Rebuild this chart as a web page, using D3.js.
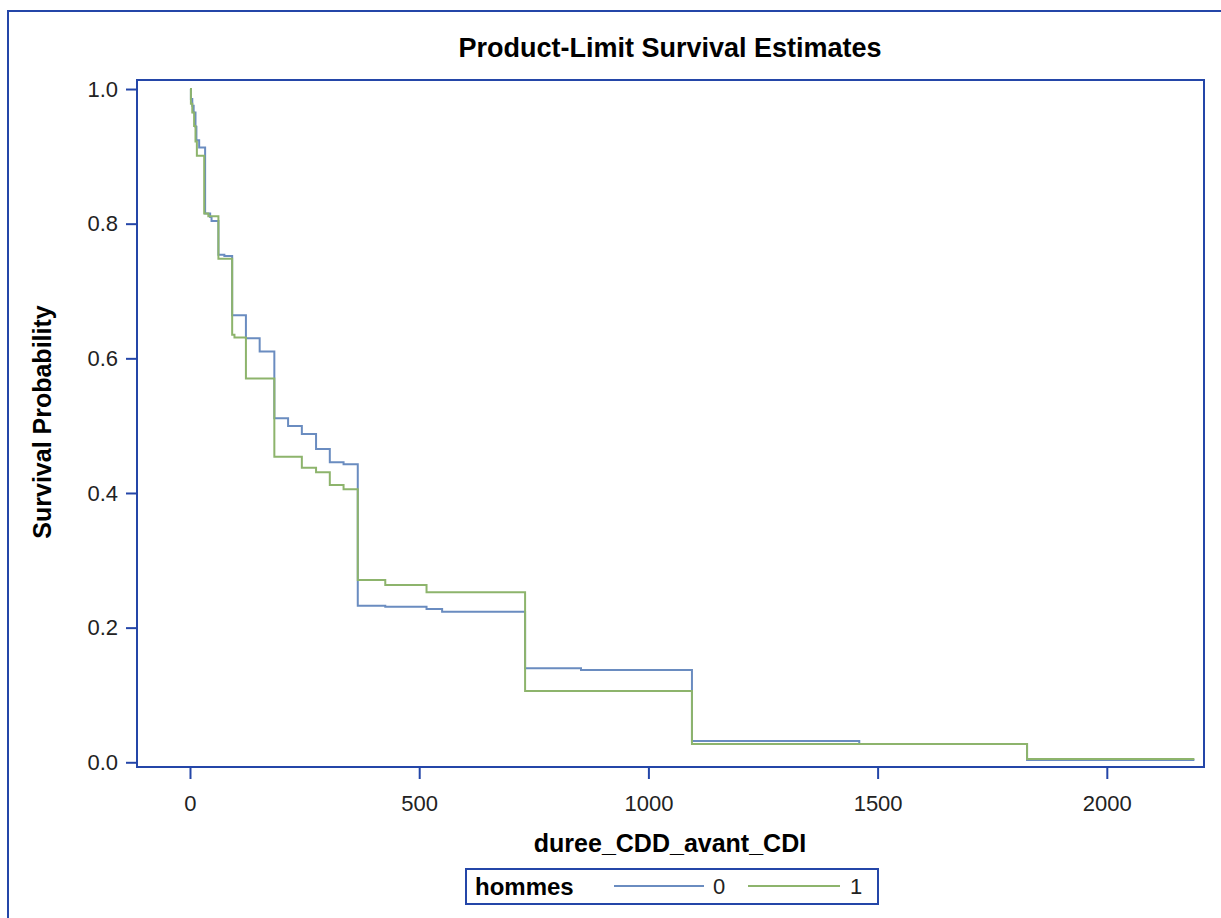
<!DOCTYPE html>
<html>
<head>
<meta charset="utf-8">
<script src="https://cdn.jsdelivr.net/npm/d3@7"></script>
<style>
  body { margin: 0; background: #fff; }
  text { font-family: "Liberation Sans", Arial, sans-serif; }
</style>
</head>
<body>
<div id="container"></div>
<script>
var width = 1221,
    height = 918;

// hommes = 0 (blue)
var times0 = [0, 2, 5, 8, 12, 14, 20, 33, 44, 47, 62, 75, 92, 122, 152, 184, 214, 244, 275, 305, 335, 366, 426, 516, 550, 731, 853, 1095, 1460, 1826];
var surv0 = [1.0, 0.985, 0.975, 0.965, 0.944, 0.924, 0.913, 0.815, 0.810, 0.804, 0.754, 0.752, 0.664, 0.630, 0.610, 0.511, 0.4995, 0.4876, 0.4653, 0.4456, 0.4426, 0.2326, 0.2311, 0.2277, 0.2237, 0.1396, 0.1371, 0.0316, 0.0272, 0.0035];
// hommes = 1 (green)
var times1 = [0, 2, 5, 9, 12, 15, 31, 40, 62, 92, 97, 122, 184, 244, 275, 305, 335, 366, 426, 516, 731, 1095, 1826];
var surv1 = [1.0, 0.978, 0.965, 0.945, 0.922, 0.901, 0.815, 0.811, 0.748, 0.635, 0.631, 0.570, 0.4539, 0.4376, 0.4307, 0.4119, 0.4054, 0.2708, 0.2633, 0.2525, 0.1059, 0.0272, 0.005];
var endTime = 2191;

var groups = ["0", "1"];
var xTicks = [0, 500, 1000, 1500, 2000];
var yTicks = [0, 0.2, 0.4, 0.6, 0.8, 1.0];

var frameBlue = "#2446a8";
var colors = ["#6a8cc0", "#8db46c"];

var svg = d3.select("#container").append("svg")
    .attr("width", width)
    .attr("height", height);

// outer border
svg.append("rect")
    .attr("x", 8).attr("y", 11)
    .attr("width", width + 20).attr("height", height + 20)
    .attr("fill", "none")
    .attr("stroke", frameBlue)
    .attr("stroke-width", 2);

var x = d3.scaleLinear().domain([-115.6, 2212]).range([137, 1204]);
var y = d3.scaleLinear().domain([-0.007, 1.0134]).range([767, 80]);

// title
svg.append("text")
    .attr("x", 670).attr("y", 57)
    .attr("text-anchor", "middle")
    .attr("font-size", 27)
    .attr("font-weight", "bold")
    .attr("fill", "#000")
    .text("Product-Limit Survival Estimates");

// curves
function toPoints(ts, ss) {
    var pts = ts.map((t, i) => [t, ss[i]]);
    pts.push([endTime, ss[ss.length - 1]]);
    return pts;
}
var line = d3.line()
    .x(d => x(d[0]))
    .y(d => y(d[1]))
    .curve(d3.curveStepAfter);

var series = [toPoints(times0, surv0), toPoints(times1, surv1)];
svg.selectAll(".curve")
    .data(series)
    .enter().append("path")
    .attr("class", "curve")
    .attr("d", d => line(d))
    .attr("fill", "none")
    .attr("stroke", (d, i) => colors[i])
    .attr("stroke-width", 2);

// frame
svg.append("rect")
    .attr("x", x.range()[0]).attr("y", y.range()[1])
    .attr("width", x.range()[1] - x.range()[0])
    .attr("height", y.range()[0] - y.range()[1])
    .attr("fill", "none")
    .attr("stroke", frameBlue)
    .attr("stroke-width", 2);

// axes
var xAxis = svg.append("g")
    .attr("transform", "translate(0," + y.range()[0] + ")")
    .call(d3.axisBottom(x).tickValues(xTicks).tickSize(12).tickPadding(16).tickFormat(d3.format("d")));
var yAxis = svg.append("g")
    .attr("transform", "translate(" + x.range()[0] + ",0)")
    .call(d3.axisLeft(y).tickValues(yTicks).tickSize(11).tickPadding(8).tickFormat(d3.format(".1f")));

[xAxis, yAxis].forEach(g => {
    g.select(".domain").remove();
    g.selectAll(".tick line").attr("stroke", frameBlue).attr("stroke-width", 2);
    g.selectAll(".tick text")
        .attr("font-size", 22)
        .attr("font-family", "Liberation Sans, Arial, sans-serif")
        .attr("fill", "#222");
});

// axis labels
svg.append("text")
    .attr("x", 670).attr("y", 852)
    .attr("text-anchor", "middle")
    .attr("font-size", 25)
    .attr("font-weight", "bold")
    .text("duree_CDD_avant_CDI");

svg.append("text")
    .attr("transform", "translate(51,422) rotate(-90)")
    .attr("text-anchor", "middle")
    .attr("font-size", 25)
    .attr("font-weight", "bold")
    .text("Survival Probability");

// legend
var lg = svg.append("g");
lg.append("rect")
    .attr("x", 466).attr("y", 869)
    .attr("width", 412).attr("height", 35)
    .attr("fill", "#fff")
    .attr("stroke", frameBlue)
    .attr("stroke-width", 2);
lg.append("text")
    .attr("x", 475).attr("y", 895)
    .attr("font-size", 24)
    .attr("font-weight", "bold")
    .text("hommes");
var legX = [{x1: 614, x2: 704, tx: 719}, {x1: 748, x2: 840, tx: 856}];
lg.selectAll(".litem")
    .data(groups)
    .enter().append("g")
    .each(function (d, i) {
        var g = d3.select(this);
        g.append("line")
            .attr("x1", legX[i].x1).attr("x2", legX[i].x2)
            .attr("y1", 886).attr("y2", 886)
            .attr("stroke", colors[i])
            .attr("stroke-width", 2);
        g.append("text")
            .attr("x", legX[i].tx).attr("y", 894)
            .attr("text-anchor", "middle")
            .attr("font-size", 22)
            .attr("fill", "#222")
            .text(d);
    });
</script>
</body>
</html>
